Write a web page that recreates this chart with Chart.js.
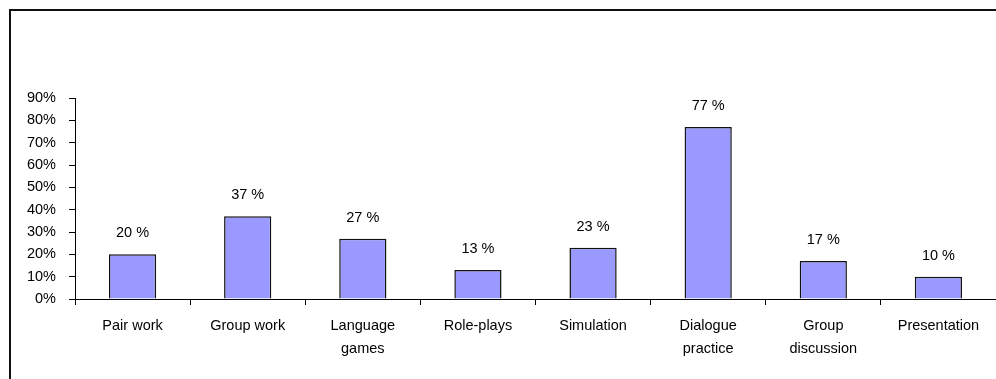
<!DOCTYPE html>
<html>
<head>
<meta charset="utf-8">
<script src="https://cdn.jsdelivr.net/npm/chart.js@4/dist/chart.umd.min.js"></script>
<style>
  html, body { margin: 0; padding: 0; background: #fff; }
  #wrap { position: relative; width: 996px; height: 379px; overflow: hidden; }
  #frame { position: absolute; left: 9px; top: 9px; width: 1100px; height: 500px;
           border-top: 2px solid #111; border-left: 2px solid #111; }
  canvas { position: absolute; left: 0; top: 0; }
</style>
</head>
<body>
<div id="wrap">
  <div id="frame"></div>
  <canvas id="activityChart" width="996" height="379"></canvas>
</div>
<script>
// Activities and share of respondents (%)
const categories = [
  'Pair work', 'Group work', ['Language', 'games'], 'Role-plays',
  'Simulation', ['Dialogue', 'practice'], ['Group', 'discussion'], 'Presentation'
];
const percentValues = [20, 37, 27, 13, 23, 77, 17, 10];
const yTicks = [0, 10, 20, 30, 40, 50, 60, 70, 80, 90];

const labelFont = { family: 'Liberation Sans, Arial, sans-serif', size: 14.5 };

// Draws "20 %" style labels above each bar
const valueLabels = {
  id: 'valueLabels',
  afterDatasetsDraw(chart) {
    const ctx = chart.ctx;
    const meta = chart.getDatasetMeta(0);
    ctx.save();
    ctx.font = `${labelFont.size}px ${labelFont.family}`;
    ctx.fillStyle = '#000';
    ctx.textAlign = 'center';
    ctx.textBaseline = 'middle';
    meta.data.forEach((bar, i) => {
      ctx.fillText(percentValues[i] + ' %', bar.x, bar.y - 21);
    });
    ctx.restore();
  }
};

const ctx = document.getElementById('activityChart').getContext('2d');
const activityChart = new Chart(ctx, {
  type: 'bar',
  data: {
    labels: categories,
    datasets: [{
      data: percentValues,
      backgroundColor: '#9999FF',
      borderColor: '#111',
      borderWidth: 1.5,
      barPercentage: 0.41,
      categoryPercentage: 1
    }]
  },
  options: {
    responsive: false,
    animation: false,
    layout: { padding: { left: 0, top: 98, right: 0, bottom: 0 } },
    plugins: {
      legend: { display: false },
      tooltip: { enabled: false }
    },
    scales: {
      x: {
        grid: { drawOnChartArea: false, drawTicks: true, tickLength: 6, color: '#000', offset: true },
        border: { color: '#000', width: 1 },
        ticks: { color: '#000', font: { ...labelFont, lineHeight: 1.63 }, padding: 9, maxRotation: 0, autoSkip: false },
        afterFit: (scale) => { scale.height = 80; }
      },
      y: {
        min: 0,
        max: 90,
        afterBuildTicks: (scale) => { scale.ticks = yTicks.map((v) => ({ value: v })); },
        grid: { drawOnChartArea: false, drawTicks: true, tickLength: 6, color: '#000' },
        border: { color: '#000', width: 1 },
        ticks: { color: '#000', font: labelFont, padding: 13, callback: (v) => v + '%' },
        afterFit: (scale) => { scale.width = 75; }
      }
    }
  },
  plugins: [valueLabels]
});
</script>
</body>
</html>
